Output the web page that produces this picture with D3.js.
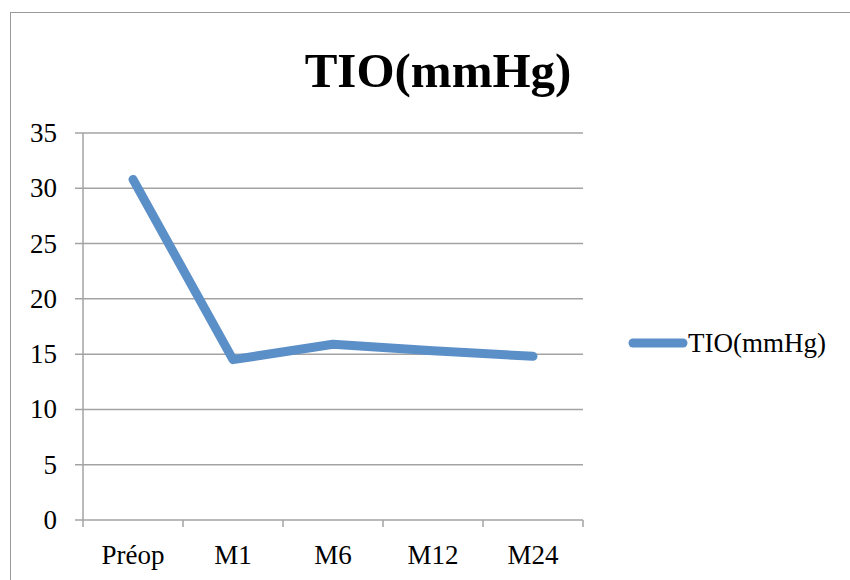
<!DOCTYPE html>
<html>
<head>
<meta charset="utf-8">
<script src="https://cdn.jsdelivr.net/npm/d3@7"></script>
<style>
  body { margin: 0; background: #fff; }
  svg { display: block; font-family: "Liberation Serif", serif; }
</style>
</head>
<body>
<svg width="850" height="580"></svg>
<script>
const categories = ["Préop", "M1", "M6", "M12", "M24"];
const tio = [30.8, 14.5, 15.9, 15.3, 14.8];
const yTicks = [0, 5, 10, 15, 20, 25, 30, 35];
const seriesName = "TIO(mmHg)";

const svg = d3.select("svg");
const lineColor = "#5b8fc8";
const gridColor = "#a3a3a3";

// outer chart border (runs off the right and bottom edges)
svg.append("rect")
  .attr("x", 10.5).attr("y", 12.5)
  .attr("width", 860).attr("height", 600)
  .attr("fill", "none")
  .attr("stroke", "#9a9a9a")
  .attr("stroke-width", 1);

const plot = { left: 83, right: 583, top: 133, bottom: 520 };

const x = d3.scaleBand()
  .domain(categories)
  .range([plot.left, plot.right]);

const y = d3.scaleLinear()
  .domain([0, 35])
  .range([plot.bottom, plot.top]);

// gridlines
svg.append("g")
  .selectAll("line")
  .data(yTicks)
  .join("line")
  .attr("x1", plot.left - 8).attr("x2", plot.right)
  .attr("y1", d => y(d)).attr("y2", d => y(d))
  .attr("stroke", gridColor)
  .attr("stroke-width", 1.5);

// y axis line
svg.append("line")
  .attr("x1", plot.left).attr("x2", plot.left)
  .attr("y1", plot.top).attr("y2", plot.bottom)
  .attr("stroke", gridColor).attr("stroke-width", 1.5);

// y labels
svg.append("g")
  .selectAll("text")
  .data(yTicks)
  .join("text")
  .attr("x", 57)
  .attr("y", d => y(d) + 9)
  .attr("text-anchor", "end")
  .attr("font-size", 27)
  .attr("fill", "#000")
  .text(d => d);

// x axis ticks
const xEdges = categories.map(c => x(c)).concat([plot.right]);
svg.append("g")
  .selectAll("line")
  .data(xEdges)
  .join("line")
  .attr("x1", d => d).attr("x2", d => d)
  .attr("y1", plot.bottom).attr("y2", plot.bottom + 7)
  .attr("stroke", gridColor).attr("stroke-width", 1.5);

svg.append("g")
  .selectAll("text")
  .data(categories)
  .join("text")
  .attr("x", d => x(d) + x.bandwidth() / 2)
  .attr("y", 564)
  .attr("text-anchor", "middle")
  .attr("font-size", 27)
  .attr("fill", "#000")
  .text(d => d);

// series line
const line = d3.line()
  .x((d, i) => x(categories[i]) + x.bandwidth() / 2)
  .y(d => y(d));

svg.append("path")
  .datum(tio)
  .attr("d", line)
  .attr("fill", "none")
  .attr("stroke", lineColor)
  .attr("stroke-width", 9)
  .attr("stroke-linecap", "round")
  .attr("stroke-linejoin", "round");

// title
svg.append("text")
  .attr("x", 438)
  .attr("y", 87)
  .attr("text-anchor", "middle")
  .attr("font-size", 49)
  .attr("font-weight", "bold")
  .attr("fill", "#000")
  .text(seriesName);

// legend
svg.append("line")
  .attr("x1", 633).attr("x2", 683)
  .attr("y1", 343).attr("y2", 343)
  .attr("stroke", lineColor)
  .attr("stroke-width", 9)
  .attr("stroke-linecap", "round");

svg.append("text")
  .attr("x", 688)
  .attr("y", 352)
  .attr("font-size", 27)
  .attr("fill", "#000")
  .text(seriesName);
</script>
</body>
</html>
